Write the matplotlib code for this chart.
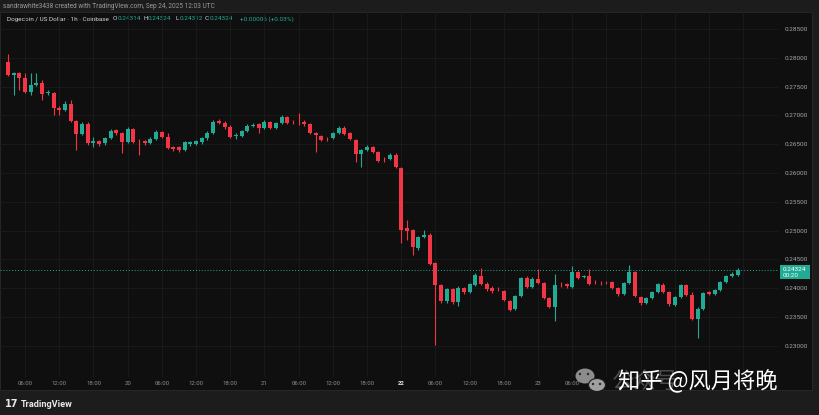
import matplotlib.pyplot as plt
from matplotlib.patches import Rectangle, Ellipse

# hourly DOGE/USD candles, Sep 19 03:00 -> Sep 24 12:00 (UTC)
opens = [0.27927, 0.27701, 0.27736, 0.27649, 0.27406, 0.27528, 0.27563, 0.27389, 0.27389, 0.27129,
         0.27094, 0.27198, 0.26903, 0.26677, 0.26851, 0.26521, 0.26556, 0.26521, 0.26608, 0.26747,
         0.26695, 0.26538, 0.26764, 0.26556, 0.26556, 0.26521, 0.26590, 0.26712, 0.26625, 0.26452,
         0.26452, 0.26399, 0.26504, 0.26504, 0.26538, 0.26608, 0.26695, 0.26903, 0.26868, 0.26799,
         0.26642, 0.26642, 0.26729, 0.26816, 0.26851, 0.26781, 0.26885, 0.26781, 0.26868, 0.26972,
         0.26885, 0.26903, 0.26885, 0.26851, 0.26695, 0.26642, 0.26590, 0.26608, 0.26695, 0.26781,
         0.26695, 0.26573, 0.26330, 0.26399, 0.26452, 0.26365, 0.26243, 0.26243, 0.26313, 0.26087,
         0.25045, 0.25011, 0.24698, 0.24889, 0.24924, 0.24438, 0.24056, 0.23778, 0.23986, 0.23761,
         0.24004, 0.23934, 0.24056, 0.24212, 0.24073, 0.24004, 0.23986, 0.23952, 0.23778, 0.23639,
         0.23865, 0.24177, 0.24021, 0.24160, 0.24090, 0.23830, 0.23674, 0.24073, 0.24073, 0.24021,
         0.24281, 0.24195, 0.24212, 0.24108, 0.24108, 0.24108, 0.24108, 0.24004, 0.23900, 0.24090,
         0.24281, 0.23847, 0.23743, 0.23830, 0.23934, 0.24056, 0.23934, 0.23709, 0.23847, 0.24056,
         0.23882, 0.23466, 0.23639, 0.23934, 0.23900, 0.23969, 0.24108, 0.24212, 0.24229, 0.24314]
highs = [0.28070, 0.27753, 0.27753, 0.27736, 0.27736, 0.27736, 0.27615, 0.27441, 0.27406, 0.27163,
         0.27250, 0.27267, 0.26920, 0.26885, 0.26885, 0.26625, 0.26573, 0.26625, 0.26764, 0.26764,
         0.26712, 0.26799, 0.26781, 0.26590, 0.26573, 0.26625, 0.26747, 0.26729, 0.26695, 0.26469,
         0.26469, 0.26556, 0.26556, 0.26573, 0.26625, 0.26729, 0.26920, 0.26937, 0.26903, 0.26833,
         0.26695, 0.26747, 0.26851, 0.26868, 0.26868, 0.26920, 0.26903, 0.26885, 0.27007, 0.26990,
         0.26920, 0.27042, 0.26920, 0.26868, 0.26712, 0.26660, 0.26625, 0.26712, 0.26816, 0.26816,
         0.26712, 0.26590, 0.26417, 0.26486, 0.26469, 0.26382, 0.26278, 0.26347, 0.26347, 0.26104,
         0.25184, 0.25028, 0.24907, 0.25011, 0.24959, 0.24455, 0.24073, 0.24004, 0.24004, 0.24038,
         0.24021, 0.24090, 0.24264, 0.24351, 0.24108, 0.24038, 0.24021, 0.23969, 0.23795, 0.23882,
         0.24195, 0.24212, 0.24195, 0.24334, 0.24108, 0.23847, 0.24247, 0.24108, 0.24090, 0.24386,
         0.24299, 0.24229, 0.24334, 0.24143, 0.24125, 0.24125, 0.24125, 0.24021, 0.24108, 0.24403,
         0.24299, 0.23865, 0.23847, 0.23952, 0.24090, 0.24090, 0.23952, 0.23865, 0.24073, 0.24073,
         0.23934, 0.23674, 0.23934, 0.23952, 0.23986, 0.24125, 0.24229, 0.24281, 0.24351, 0.24324]
lows = [0.27684, 0.27354, 0.27441, 0.27389, 0.27354, 0.27510, 0.27267, 0.27354, 0.27007, 0.27007,
        0.27076, 0.26885, 0.26399, 0.26660, 0.26486, 0.26452, 0.26469, 0.26486, 0.26590, 0.26660,
        0.26347, 0.26521, 0.26521, 0.26313, 0.26486, 0.26504, 0.26573, 0.26608, 0.26417, 0.26382,
        0.26365, 0.26382, 0.26469, 0.26486, 0.26504, 0.26573, 0.26677, 0.26851, 0.26764, 0.26608,
        0.26590, 0.26625, 0.26712, 0.26799, 0.26695, 0.26764, 0.26764, 0.26764, 0.26851, 0.26851,
        0.26851, 0.26833, 0.26816, 0.26677, 0.26365, 0.26556, 0.26556, 0.26590, 0.26677, 0.26660,
        0.26573, 0.26191, 0.26104, 0.26382, 0.26347, 0.26191, 0.26191, 0.26226, 0.26087, 0.24785,
        0.24837, 0.24577, 0.24663, 0.24872, 0.24403, 0.23014, 0.23743, 0.23743, 0.23726, 0.23691,
        0.23900, 0.23917, 0.24038, 0.24056, 0.23952, 0.23917, 0.23952, 0.23778, 0.23604, 0.23622,
        0.23847, 0.24004, 0.24004, 0.24073, 0.23813, 0.23657, 0.23431, 0.24021, 0.24004, 0.24004,
        0.24160, 0.24177, 0.24056, 0.24073, 0.24056, 0.24073, 0.23986, 0.23865, 0.23882, 0.24073,
        0.23847, 0.23709, 0.23726, 0.23813, 0.23917, 0.23917, 0.23691, 0.23691, 0.23830, 0.23865,
        0.23449, 0.23136, 0.23622, 0.23882, 0.23882, 0.23952, 0.24090, 0.24195, 0.24212, 0.24312]
closes = [0.27701, 0.27736, 0.27649, 0.27406, 0.27528, 0.27563, 0.27372, 0.27406, 0.27129, 0.27094,
          0.27198, 0.26903, 0.26677, 0.26851, 0.26521, 0.26556, 0.26504, 0.26608, 0.26729, 0.26695,
          0.26538, 0.26764, 0.26538, 0.26550, 0.26521, 0.26590, 0.26712, 0.26625, 0.26434, 0.26417,
          0.26399, 0.26538, 0.26538, 0.26556, 0.26608, 0.26695, 0.26885, 0.26868, 0.26799, 0.26625,
          0.26660, 0.26729, 0.26816, 0.26833, 0.26781, 0.26885, 0.26781, 0.26868, 0.26972, 0.26868,
          0.26880, 0.26898, 0.26851, 0.26695, 0.26660, 0.26573, 0.26585, 0.26695, 0.26781, 0.26677,
          0.26590, 0.26330, 0.26399, 0.26452, 0.26365, 0.26208, 0.26238, 0.26313, 0.26104, 0.25011,
          0.24993, 0.24715, 0.24889, 0.24924, 0.24420, 0.24056, 0.23778, 0.23986, 0.23761, 0.24004,
          0.23934, 0.24073, 0.24229, 0.24073, 0.23986, 0.23952, 0.23981, 0.23795, 0.23622, 0.23865,
          0.24177, 0.24021, 0.24160, 0.24090, 0.23830, 0.23674, 0.24056, 0.24068, 0.24038, 0.24281,
          0.24177, 0.24212, 0.24073, 0.24103, 0.24103, 0.24100, 0.24004, 0.23900, 0.24090, 0.24281,
          0.23865, 0.23743, 0.23830, 0.23934, 0.24073, 0.23934, 0.23726, 0.23847, 0.24056, 0.23882,
          0.23466, 0.23639, 0.23917, 0.23900, 0.23969, 0.24108, 0.24212, 0.24247, 0.24314, 0.24324]

# time axis labels that stay visible (the rest sit under the watermark)
time_labels = ['06:00', '12:00', '18:00', '20', '06:00', '12:00', '18:00', '21',
               '06:00', '12:00', '18:00', '22', '06:00', '12:00', '18:00', '23', '06:00']
price_ticks = [0.230, 0.235, 0.240, 0.245, 0.250, 0.255, 0.260, 0.265, 0.270, 0.275, 0.280, 0.285]
last_price = 0.24324

UP = '#22ab94'
DOWN = '#f23645'
BG = '#0f0f0f'
OUTER = '#1c1c1c'
W, H = 819, 415

fig = plt.figure(figsize=(W / 100, H / 100), dpi=100)
fig.patch.set_facecolor(OUTER)

def frac(x0, y0, x1, y1):
    return [x0 / W, 1 - y1 / H, (x1 - x0) / W, (y1 - y0) / H]

# background layer: panel + header texts
bg = fig.add_axes([0, 0, 1, 1], zorder=0)
bg.set_xlim(0, W)
bg.set_ylim(H, 0)
bg.axis('off')
bg.add_patch(Rectangle((0, 12), 812, 378, fc=BG, ec='#2a2a2a', lw=0.6))
bg.text(3, 6, 'sandrawhite3438 created with TradingView.com, Sep 24, 2025 12:03 UTC',
        color='#9a9a9a', fontsize=4.7, family='Roboto', va='center')
bg.text(7, 19, 'Dogecoin / US Dollar · 1h · Coinbase', color='#d1d4dc', fontsize=4.6,
        family='Roboto', va='center')
legend_bits = [(113, 'O', '0.24314'), (143, 'H', '0.24324'), (175, 'L', '0.24312'),
               (205, 'C', '0.24324')]
for lx, k, v in legend_bits:
    bg.text(lx, 19, k, color='#d1d4dc', fontsize=4.6, family='Roboto', va='center')
    bg.text(lx + 4.5, 19, v, color=UP, fontsize=4.6, family='Roboto', va='center')
bg.text(240, 19, '+0.00006 (+0.03%)', color=UP, fontsize=4.6, family='Roboto', va='center')
bg.text(5, 404, '17', color='#e8e8e8', fontsize=7, fontweight='bold', va='center')
bg.text(21, 404, 'TradingView', color='#e8e8e8', fontsize=6.6, fontweight='bold',
        family='Roboto', va='center')

# main candle chart
ax = fig.add_axes(frac(0, 12, 778, 377), zorder=1)
ax.patch.set_alpha(0)
n = len(closes)
idx = list(range(n))
for i in idx:
    o, hi, lo, c = opens[i], highs[i], lows[i], closes[i]
    col = UP if c >= o else DOWN
    ax.vlines(i, lo, hi, color=col, lw=0.8, zorder=3)
    body = max(abs(c - o), 0.00005)
    ax.bar(i, body, bottom=min(o, c), width=0.7, color=col, lw=0, zorder=4)

ax.set_xlim(-1.4, 135.1)
ax.set_ylim(0.22458, 0.28795)
# vertical grid every 6 hours, labels only where not covered
grid_pos = [3 + 6 * k for k in range(22)]
ax.set_xticks(grid_pos)
ax.set_xticklabels(time_labels + [''] * (len(grid_pos) - len(time_labels)))
ax.set_yticks(price_ticks)
ax.set_yticklabels([f'{p:.5f}' for p in price_ticks])
ax.yaxis.tick_right()
ax.tick_params(axis='y', length=0, pad=5, labelsize=4.6, labelcolor='#a3a6af')
ax.tick_params(axis='x', length=0, pad=3, labelsize=4.3, labelcolor='#8a8d94')
for lab in ax.get_xticklabels():
    lab.set_family('Roboto')
    if lab.get_text() == '22':
        lab.set_color('#e0e0e0')
        lab.set_fontweight('bold')
for lab in ax.get_yticklabels():
    lab.set_family('Roboto')
ax.grid(True, color='#1c1c1c', lw=0.6)
ax.set_axisbelow(True)
for s in ax.spines.values():
    s.set_visible(False)
ax.axhline(last_price, color=UP, lw=0.7, ls=(0, (1, 2)), zorder=2)

# foreground: price box, watermark
fg = fig.add_axes([0, 0, 1, 1], zorder=3)
fg.set_xlim(0, W)
fg.set_ylim(H, 0)
fg.axis('off')
fg.add_patch(Rectangle((780, 265), 30, 14, fc=UP, ec='none'))
fg.text(783, 269, f'{last_price:.5f}', color='white', fontsize=4.6, family='Roboto', va='center')
fg.text(783, 275.5, '00:20', color='#e6fffa', fontsize=4.6, family='Roboto', va='center')

fg.add_patch(Ellipse((585, 376), 19, 15, fc='#8c8c8c', ec='none'))
fg.add_patch(Ellipse((597, 385), 17, 13, fc='#a0a0a0', ec='#1c1c1c', lw=0.8))
for ex, ey in [(580, 374), (588, 374), (593, 384), (600, 384)]:
    fg.add_patch(Ellipse((ex, ey), 2.4, 2.4, fc='#2a2a2a', ec='none'))
fg.text(612, 381, '公众号', color='#5a5a5a', fontsize=16, family='Noto Sans CJK SC',
        va='center', alpha=0.8)
fg.text(618, 381, '知乎 @风月将晚', color='white', fontsize=16,
        family=['Noto Sans CJK SC', 'DejaVu Sans'], va='center')

fig.savefig('out.png', dpi=100, facecolor=fig.get_facecolor())
